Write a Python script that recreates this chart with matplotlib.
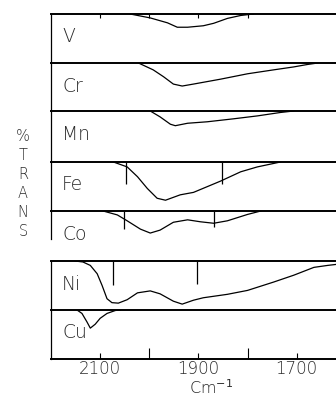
import matplotlib.pyplot as plt

# IR spectra, % transmittance vs wavenumber (cm-1)
v_wn = [2039, 1998, 1963, 1943, 1922, 1890, 1869, 1841, 1814, 1788]
v_t = [100, 92, 82, 73, 73, 76, 81, 91, 97, 100]

cr_wn = [2022, 1992, 1971, 1951, 1933, 1910, 1855, 1800, 1747, 1706, 1678, 1657]
cr_t = [100, 86, 72, 57, 53, 57, 67, 78, 86, 92, 97, 100]

mn_wn = [1998, 1978, 1957, 1947, 1922, 1882, 1829, 1780, 1733, 1706]
mn_t = [100, 88, 73, 70, 75, 78, 84, 90, 97, 100]

fe_wn = [2073, 2045, 2024, 2004, 1984, 1967, 1937, 1910, 1855, 1814, 1780, 1733]
fe_t = [100, 90, 70, 46, 26, 22, 33, 38, 61, 80, 90, 100]

co_wn = [2094, 2065, 2045, 2018, 1998, 1978, 1951, 1922, 1896, 1869, 1841, 1800, 1773]
co_t = [100, 92, 80, 63, 55, 61, 77, 82, 78, 75, 80, 93, 100]

ni_wn = [2151, 2135, 2120, 2106, 2096, 2086, 2076, 2063, 2045, 2024, 1998, 1978,
         1951, 1933, 1910, 1890, 1841, 1800, 1747, 1706, 1665, 1637, 1620]
ni_t = [100, 98, 91, 74, 50, 23, 15, 14, 21, 35, 39, 33,
        18, 12, 20, 25, 32, 40, 57, 71, 87, 91, 93]

cu_wn = [2147, 2137, 2127, 2120, 2110, 2100, 2086, 2069, 2059]
cu_t = [100, 93, 76, 63, 71, 83, 93, 99, 100]

# vertical marker lines: wavenumber and lower end (% T)
fe_marks = [2047, 1853]
fe_mark_low = [55, 55]
co_marks = [2051, 1869]
co_mark_low = [63, 67]
ni_marks = [2073, 1902]
ni_mark_low = [51, 53]

labels = ["V", "Cr", "Mn", "Fe", "Co", "Ni", "Cu"]
tick_labels = ["2100", "1900", "1700"]
tick_pos = [2100, 1900, 1700]
minor_pos = [2000, 1800]

W, H = 336, 398
# panel top/bottom in pixels
panels = [(14, 63), (63, 111), (111, 162), (162, 211), (211, 239), (261, 310), (310, 359)]
series = [(v_wn, v_t), (cr_wn, cr_t), (mn_wn, mn_t), (fe_wn, fe_t),
          (co_wn, co_t), (ni_wn, ni_t), (cu_wn, cu_t)]
marks = {3: (fe_marks, fe_mark_low), 4: (co_marks, co_mark_low), 5: (ni_marks, ni_mark_low)}

plt.rcParams['font.family'] = ['DejaVu Sans']
txt_color = "#2a2a2a"

fig = plt.figure(figsize=(W / 100, H / 100), dpi=100)
left = 51 / W
for i, ((top, bot), (wn, t)) in enumerate(zip(panels, series)):
    ax = fig.add_axes([left, 1 - bot / H, 1 - left, (bot - top) / H])
    ax.plot(wn, t, color="black", lw=0.9)
    if i in marks:
        xs, lows = marks[i]
        ax.vlines(xs, lows, 100, color="black", lw=0.9)
    ax.set_xlim(2200, 1620)
    ax.set_ylim(100 - (bot - top) / 49 * 100, 100)
    for s in ["right", "bottom"]:
        ax.spines[s].set_visible(False)
    ax.spines["top"].set_linewidth(1.4)
    ax.spines["left"].set_linewidth(0.9)
    ax.set_yticks([])
    # label sits ~23 px below the panel's top line
    ax.text(62 / W, 1 - (top + 23) / H, labels[i], transform=fig.transFigure,
            fontsize=13.5, fontweight="light", va="center", ha="left", color=txt_color)
    if i == 0:
        ax.set_xticks([2100, 2000, 1900, 1800])
        ax.tick_params(axis="x", top=True, bottom=False, labeltop=False,
                       labelbottom=False, direction="in", length=3, width=0.8)
    elif i == len(panels) - 1:
        ax.spines["bottom"].set_visible(True)
        ax.spines["bottom"].set_linewidth(1.4)
        ax.set_xticks(tick_pos)
        ax.set_xticklabels(tick_labels, fontsize=12, fontweight="light", color=txt_color)
        ax.set_xticks(minor_pos, minor=True)
        ax.tick_params(axis="x", which="major", direction="in", length=4, width=0.8, pad=0.5)
        ax.tick_params(axis="x", which="minor", direction="in", length=8, width=0.8)
    else:
        ax.set_xticks([])

fig.text(211 / W, 1 - 393.5 / H, "Cm$^{-1}$", ha="center", va="baseline",
         fontsize=11.5, fontweight="light", color=txt_color)
fig.text(23 / W, 1 - 184 / H, "%\nT\nR\nA\nN\nS", ha="center", va="center",
         fontsize=10.5, fontweight="light", linespacing=1.32, color=txt_color)

fig.savefig("out.png", dpi=100)
